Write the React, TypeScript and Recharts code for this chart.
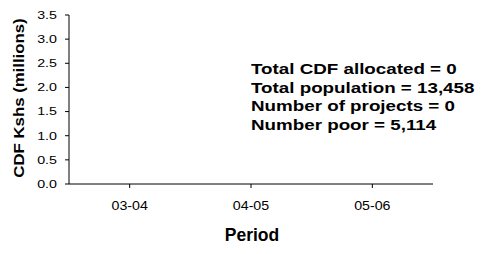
import { Bar, BarChart, XAxis, YAxis } from "recharts";

const periods = ["03-04", "04-05", "05-06"];
const allocated = [0, 0, 0];
const yTicks = [0, 0.5, 1, 1.5, 2, 2.5, 3, 3.5];
const summaryLines = [
  "Total CDF allocated = 0",
  "Total population = 13,458",
  "Number of projects = 0",
  "Number poor = 5,114"
];

const data = periods.map((period, i) => ({ period, allocated: allocated[i] }));

const font = "'Liberation Sans', Arial, sans-serif";

// the source picture draws its text a little wider than tall, hence the scale()
function ValueTick(props: any) {
  const { x, y, payload } = props;
  return (
    <g transform={`translate(${x},${y})`}>
      <text
        transform="scale(1.32,1)"
        textAnchor="end"
        dy="0.355em"
        fill="#000"
        fontSize={10.8}
        fontFamily={font}
      >
        {Number(payload.value).toFixed(1)}
      </text>
    </g>
  );
}

function PeriodTick(props: any) {
  const { x, y, payload } = props;
  return (
    <g transform={`translate(${x},${y})`}>
      <text
        transform="scale(1.13,1)"
        textAnchor="middle"
        dy={20}
        fill="#000"
        fontSize={12.6}
        fontFamily={font}
      >
        {payload.value}
      </text>
    </g>
  );
}

function ValueLabel(props: any) {
  const { viewBox } = props;
  const cx = viewBox.x + 10;
  const cy = viewBox.y + viewBox.height / 2 - 1.5;
  return (
    <g transform={`translate(${cx},${cy}) rotate(-90)`}>
      <text
        transform="scale(1.09,1)"
        textAnchor="middle"
        dy="0.36em"
        fill="#000"
        fontSize={15.4}
        fontWeight="bold"
        fontFamily={font}
      >
        CDF Kshs (millions)
      </text>
    </g>
  );
}

function PeriodLabel(props: any) {
  const { viewBox } = props;
  return (
    <text
      x={viewBox.x + viewBox.width / 2 + 1}
      y={viewBox.y + 57.3}
      textAnchor="middle"
      fill="#000"
      fontSize={17.5}
      fontWeight="bold"
      fontFamily={font}
    >
      Period
    </text>
  );
}

export default function App() {
  return (
    <div style={{ position: "relative", width: 470, height: 238, fontFamily: font }}>
      <BarChart
        width={470}
        height={238}
        data={data}
        margin={{ top: 7, right: 45, bottom: 0, left: 0 }}
      >
        <XAxis
          dataKey="period"
          height={62}
          tickSize={4}
          tickMargin={2}
          stroke="#000"
          tick={<PeriodTick />}
          label={<PeriodLabel />}
        />
        <YAxis
          width={61}
          domain={[0, 3.5]}
          ticks={yTicks}
          tickSize={4}
          tickMargin={8}
          interval={0}
          stroke="#000"
          tick={<ValueTick />}
          label={<ValueLabel />}
        />
        <Bar dataKey="allocated" fill="#9999ff" isAnimationActive={false} />
      </BarChart>
      <div
        style={{
          position: "absolute",
          left: 242.7,
          top: 52,
          fontSize: 15.4,
          fontWeight: "bold",
          lineHeight: "18.7px",
          color: "#000",
          whiteSpace: "nowrap",
          transform: "scaleX(1.22)",
          transformOrigin: "left top"
        }}
      >
        {summaryLines.map((line) => (
          <div key={line}>{line}</div>
        ))}
      </div>
    </div>
  );
}
